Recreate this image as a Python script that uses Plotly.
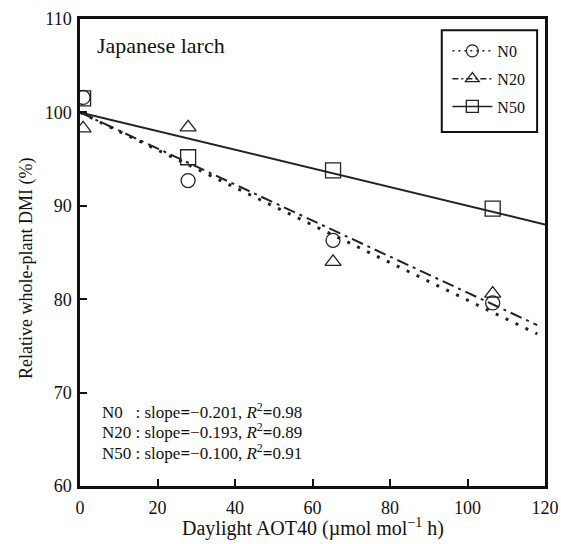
import plotly.graph_objects as go

# Data
series_names = ["N0", "N20", "N50"]
aot40 = [0.8, 27.9, 65.3, 106.5]
dmi_n0 = [101.6, 92.7, 86.3, 79.6]
dmi_n20 = [98.3, 98.4, 84.0, 80.6]
dmi_n50 = [101.5, 95.2, 93.8, 89.7]
slopes = [-0.201, -0.193, -0.100]
intercepts = [100.0, 100.0, 100.0]
r2 = [0.98, 0.89, 0.91]
line_x_end = [118, 118, 120]
x_ticks = [0, 20, 40, 60, 80, 100, 120]
y_ticks = [60, 70, 80, 90, 100, 110]

values = [dmi_n0, dmi_n20, dmi_n50]
symbols = ["circle-open", "triangle-up-open", "square-open"]
dashes = ["3px,8px", "12px,5px,3px,5px", "solid"]
leg_dashes = ["2px,4px", "6px,3px,2px,3px", "solid"]
line_widths = [3, 2, 2]
msizes = [14, 14, 15]
col = "#222222"
font_fam = "Liberation Serif, Times New Roman, serif"

fig = go.Figure()
for i, name in enumerate(series_names):
    xs = [0, line_x_end[i]]
    ys = [intercepts[i] + slopes[i] * x for x in xs]
    fig.add_trace(go.Scatter(x=xs, y=ys, mode="lines",
                             line=dict(color=col, width=line_widths[i], dash=dashes[i]),
                             showlegend=False, hoverinfo="skip"))
for i, name in enumerate(series_names):
    fig.add_trace(go.Scatter(x=aot40, y=values[i], mode="markers", name=name,
                             marker=dict(symbol=symbols[i], size=msizes[i], color=col,
                                         line=dict(width=1.3, color=col)),
                             showlegend=False))
    fig.add_trace(go.Scatter(x=[None], y=[None], mode="lines+markers", name=name,
                             legendgroup=name,
                             marker=dict(symbol=symbols[i], size=12, color=col,
                                         line=dict(width=1.3, color=col)),
                             line=dict(color=col, width=1.5, dash=leg_dashes[i])))

labels = ["N0&nbsp;&nbsp;", "N20", "N50"]
for k in range(3):
    txt = (f"{labels[k]} : slope<b>=</b>\u2212{abs(slopes[k]):.3f}, "
           f"<i>R</i><sup>2</sup><b>=</b>{r2[k]:.2f}")
    fig.add_annotation(x=0.043, y=0.161 - k * 0.044, xref="paper", yref="paper",
                       text=txt, showarrow=False, xanchor="left", yanchor="middle",
                       font=dict(size=17, family=font_fam, color="#111"))

fig.add_annotation(x=0.032, y=0.944, xref="paper", yref="paper", text="Japanese larch",
                   showarrow=False, xanchor="left", yanchor="middle",
                   font=dict(size=22, family=font_fam, color="#111"))

fig.add_annotation(x=0.5, y=-0.088, xref="paper", yref="paper",
                   text="Daylight AOT40 (µmol mol<sup>\u22121</sup> h)",
                   showarrow=False, xanchor="center", yanchor="middle",
                   font=dict(size=20, family=font_fam, color="#111"))
fig.add_annotation(x=-0.114, y=0.467, xref="paper", yref="paper",
                   text="Relative whole-plant DMI (%)", textangle=-90,
                   showarrow=False, xanchor="center", yanchor="middle",
                   font=dict(size=18, family=font_fam, color="#111"))

# legend frame
fig.add_shape(type="rect", xref="paper", yref="paper", x0=0.778, x1=0.983, y0=0.758, y1=0.976,
              line=dict(color="#111", width=2), fillcolor="rgba(0,0,0,0)", layer="above")

axis_common = dict(showgrid=False, zeroline=False, showline=True, linecolor="#111",
                   linewidth=2.5, mirror=True, ticks="inside", ticklen=7, tickwidth=1.5,
                   tickcolor="#111", automargin=False,
                   tickfont=dict(size=18, family=font_fam, color="#111"))

fig.update_layout(
    width=561, height=544,
    margin=dict(l=80, r=16, t=19, b=58),
    paper_bgcolor="white", plot_bgcolor="white",
    font=dict(family=font_fam, color="#111"),
    xaxis=dict(range=[0, 120], tickvals=x_ticks, ticklabelstandoff=4, **axis_common),
    yaxis=dict(range=[60, 110], tickvals=y_ticks, ticklabelstandoff=2, **axis_common),
    legend=dict(x=0.79, y=0.968, xanchor="left", yanchor="top", borderwidth=0,
                bgcolor="rgba(0,0,0,0)", font=dict(size=16, family=font_fam),
                traceorder="grouped", tracegroupgap=4, itemwidth=40),
)

fig.write_html("out.html", config={"displayModeBar": False},
               post_script="document.body.style.margin='0px';")
